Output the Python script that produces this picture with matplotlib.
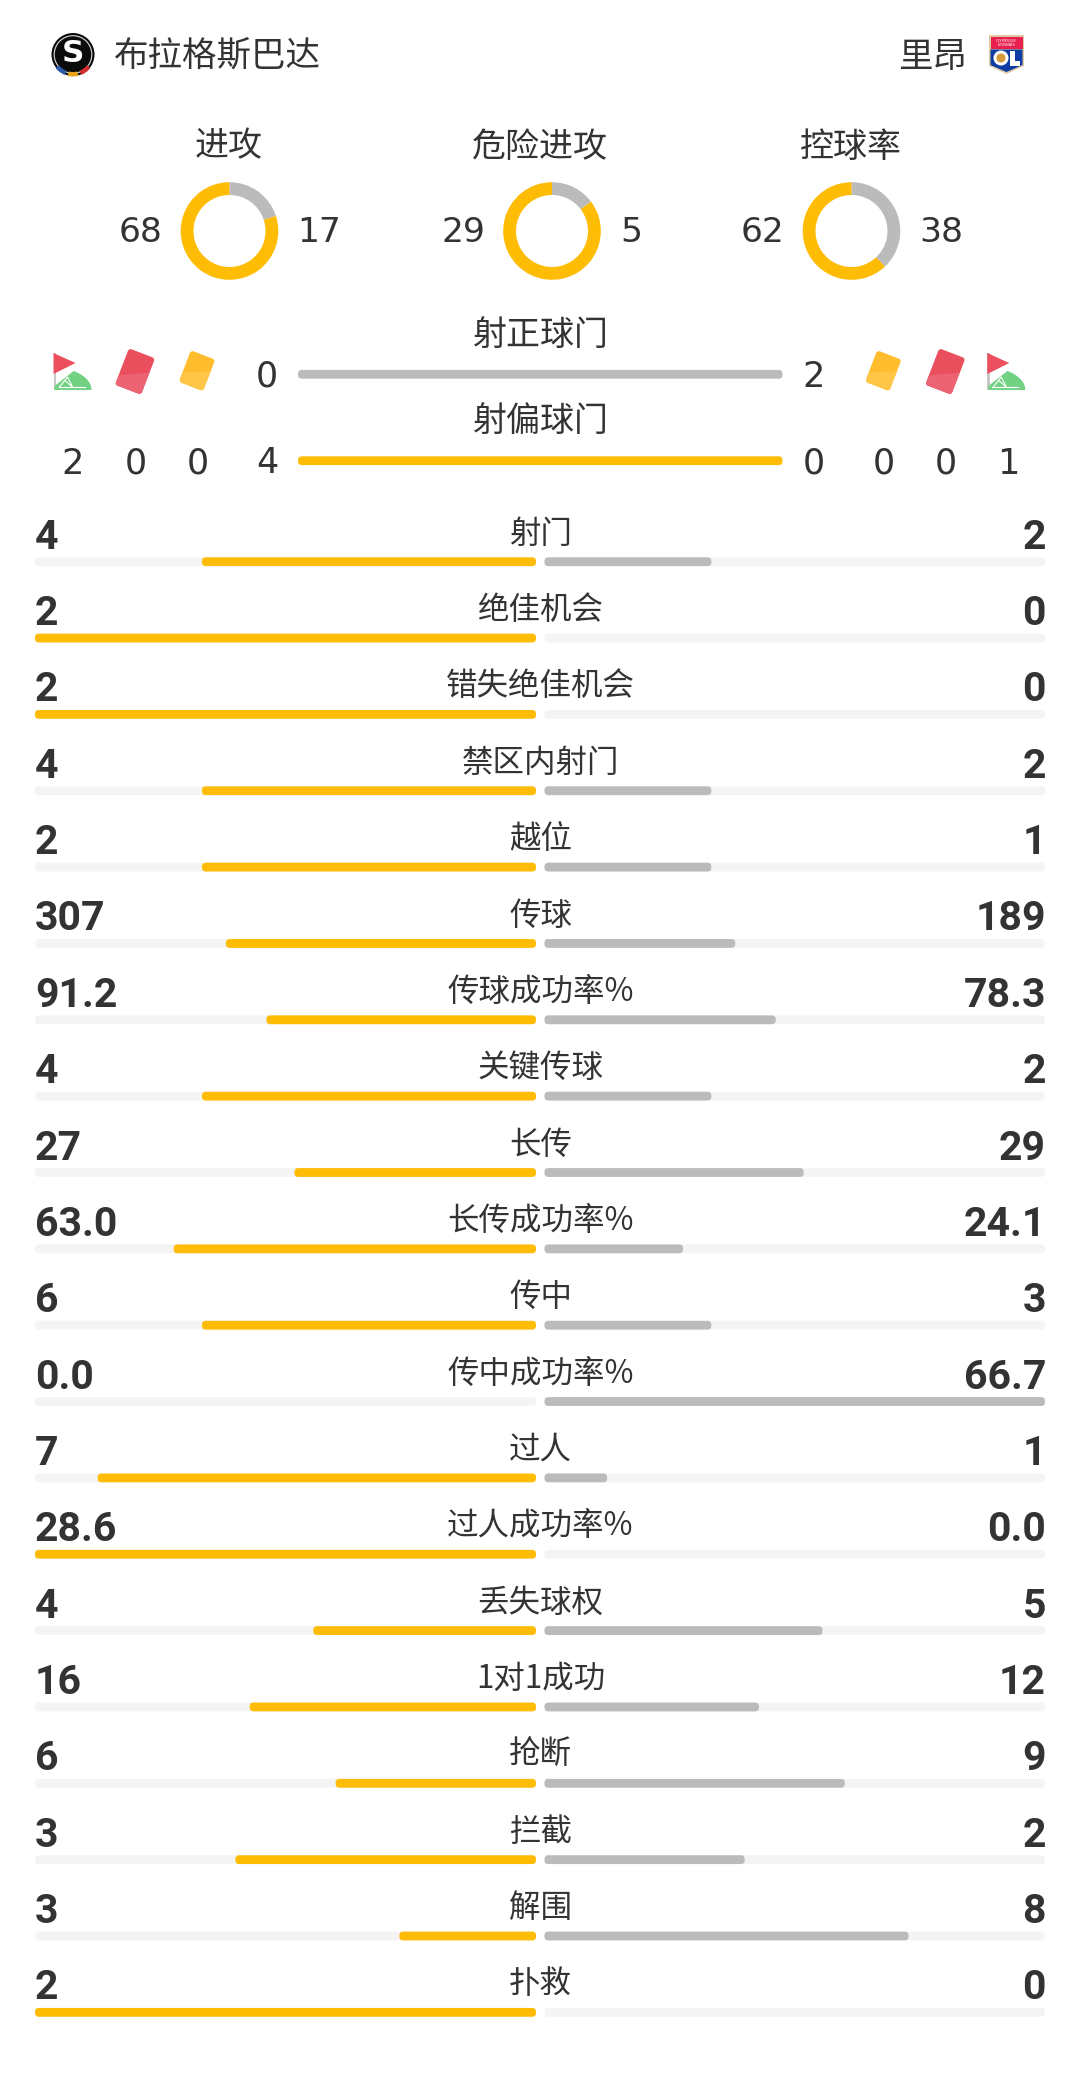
"""Match stats panel: three possession donuts, two shot bars, twenty stat rows."""
import numpy as np
import matplotlib
matplotlib.use("Agg")
import matplotlib.pyplot as plt
from matplotlib.patches import Circle, FancyBboxPatch, Polygon, Rectangle, Wedge
from matplotlib.transforms import Affine2D

home_team = "布拉格斯巴达"
away_team = "里昂"

donut_labels = ["进攻", "危险进攻", "控球率"]
donut_home = [68, 29, 62]
donut_away = [17, 5, 38]

shot_labels = ["射正球门", "射偏球门"]
shot_home = [0, 4]
shot_away = [2, 0]
# corners, red cards, yellow cards on the shots-off-target line
home_counts = ["2", "0", "0"]
away_counts = ["0", "0", "1"]

stat_labels = ["射门", "绝佳机会", "错失绝佳机会", "禁区内射门", "越位", "传球", "传球成功率%",
               "关键传球", "长传", "长传成功率%", "传中", "传中成功率%", "过人", "过人成功率%",
               "丢失球权", "1对1成功", "抢断", "拦截", "解围", "扑救"]
stat_home = ["4", "2", "2", "4", "2", "307", "91.2", "4", "27", "63.0",
             "6", "0.0", "7", "28.6", "4", "16", "6", "3", "3", "2"]
stat_away = ["2", "0", "0", "2", "1", "189", "78.3", "2", "29", "24.1",
             "3", "66.7", "1", "0.0", "5", "12", "9", "2", "8", "0"]

YELLOW = "#FFBC05"
GREY = "#BBBBBB"
TRACK = "#F4F4F4"
INK = "#333333"
CJK = ["Noto Sans CJK SC", "DejaVu Sans"]
NUM = ["Roboto", "DejaVu Sans"]
PLAIN = ["DejaVu Sans"]

fig = plt.figure(figsize=(10.8, 20.74), dpi=100, facecolor="white")
ax = fig.add_axes([0, 0, 1, 1])
ax.set_xlim(0, 1080)
ax.set_ylim(2074, 0)
ax.axis("off")


def px(size):
    """Font size given in image pixels."""
    return size * 72 / 100


def pill(x0, x1, y, h, color, z=2):
    if x1 - x0 <= 0:
        return
    r = min(h / 2 - 0.5, (x1 - x0) / 2)
    ax.add_patch(FancyBboxPatch((x0 + r, y - h / 2 + r), x1 - x0 - 2 * r, h - 2 * r,
                                boxstyle=f"round,pad={r},rounding_size={r}",
                                fc=color, ec="none", zorder=z))


def label(x, y, s, size=32, ha="center", family=CJK, weight="normal", color=INK):
    ax.text(x, y, s, fontsize=px(size), ha=ha, va="center_baseline", family=family,
            weight=weight, color=color)


def card(cx, cy, w, h, base, light):
    rot = Affine2D().rotate_deg_around(cx, cy, 21) + ax.transData
    p = FancyBboxPatch((cx - w / 2 + 3, cy - h / 2 + 3), w - 6, h - 6,
                       boxstyle="round,pad=3,rounding_size=3", fc=base, ec="none",
                       transform=rot, zorder=3)
    ax.add_patch(p)
    lower = Polygon([(cx - w / 2, cy + h / 2 + 1), (cx + w / 2, cy + h / 2 + 1), (cx + w / 2, cy - 4),
                     (cx - w / 2, cy + h / 2 - 10)], fc=light, ec="none", transform=rot, zorder=4)
    ax.add_patch(lower)
    lower.set_clip_path(p)


def corner_flag(x, y):
    ax.add_patch(Rectangle((x, y), 2.7, 37, fc="#C8C8C8", ec="none", zorder=3))
    ax.add_patch(Polygon([(x, y), (x, y + 21), (x + 22, y + 10)], fc="#EC4F5E", ec="none", zorder=4))
    t = np.radians(np.linspace(0, 58, 30))
    arc = np.c_[x + 38 * np.cos(t), y + 37 - 19 * np.sin(t) / np.sin(np.radians(58))]
    ax.add_patch(Polygon(np.vstack([[x + 1, y + 37], arc, [x + 1, y + 33]]),
                         fc="#72D183", ec="none", zorder=3))
    ax.plot([x + 5, x + 31], [y + 34, y + 34], color="white", lw=0.8, zorder=5)
    ax.plot([x + 6, x + 14, x + 19, x + 12], [y + 34, y + 24, y + 34, y + 28], color="white", lw=0.8, zorder=5)


def sparta_logo(cx, cy):
    ax.add_patch(Circle((cx, cy), 21.5, fc="#0B0B0B", ec="none", zorder=3))
    ax.add_patch(Circle((cx, cy), 18.8, fc="none", ec="#D8D8D8", lw=0.8, zorder=4))
    # angles run clockwise on screen because y is inverted
    for a0, a1, c in [(112, 142, "#2C5AA8"), (76, 104, "#E8A317"), (38, 68, "#D32F2F")]:
        ax.add_patch(Wedge((cx, cy), 22, a0, a1, width=4.5, fc=c, ec="none", zorder=5))
    ax.text(cx, cy - 1.5, "S", fontsize=px(31), family="DejaVu Sans", weight="bold", color="white",
            ha="center", va="center", zorder=6)


def lyon_logo(x, y):
    ax.add_patch(Polygon([(x, y), (x + 35, y), (x + 35, y + 31), (x + 30, y + 33), (x + 17.5, y + 39),
                          (x + 5, y + 33), (x, y + 31)], fc="#E0C9A0", ec="none", zorder=3))
    ax.add_patch(Rectangle((x + 1.5, y + 1.5), 32, 12, fc="#E8204E", ec="none", zorder=4))
    ax.add_patch(Polygon([(x + 1.5, y + 14.5), (x + 33.5, y + 14.5), (x + 33.5, y + 30), (x + 29, y + 32),
                          (x + 17.5, y + 37), (x + 6, y + 32), (x + 1.5, y + 30)], fc="#0E3CA5", ec="none", zorder=4))
    ax.text(x + 17.5, y + 5, "OLYMPIQUE", fontsize=2.6, color="white", ha="center", va="center", zorder=5)
    ax.text(x + 17.5, y + 10, "LYONNAIS", fontsize=2.6, color="white", ha="center", va="center", zorder=5)
    ax.add_patch(Circle((x + 12, y + 23), 7.5, fc="white", ec="none", zorder=5))
    ax.add_patch(Circle((x + 12, y + 23), 4.5, fc="#D29A3A", ec="none", zorder=6))
    ax.add_patch(Rectangle((x + 21, y + 16), 4.5, 14, fc="white", ec="none", zorder=5))
    ax.add_patch(Rectangle((x + 21, y + 26), 10, 4.5, fc="white", ec="none", zorder=5))


# header
sparta_logo(73, 54.5)
label(113.5, 53.5, home_team, size=34.5, ha="left")
label(967, 53.5, away_team, size=34.5, ha="right")
lyon_logo(989, 35)

# donuts
donut_cx = [229.5, 552, 851.5]
label_cx = [229, 540, 850.7]
for cx, lx, name, h, a in zip(donut_cx, label_cx, donut_labels, donut_home, donut_away):
    cy = 231
    label(lx, 143, name, size=34)
    # grey runs clockwise from the top, yellow takes the rest
    split = 360 * a / (h + a)
    ax.add_patch(Wedge((cx, cy), 48.8, -90, -90 + split, width=12.8, fc=GREY, ec="none", zorder=2))
    ax.add_patch(Wedge((cx, cy), 48.8, -90 + split, 270, width=12.8, fc=YELLOW, ec="none", zorder=3))
    label(cx - 67, 229.5, str(h), size=34.5, ha="right", family=PLAIN)
    label(cx + 68, 229.5, str(a), size=34.5, ha="left", family=PLAIN)

# shot bars
bar_x0, bar_x1 = 298, 782.5
shot_y = [374.3, 460.7]
shot_label_y = [331, 417.5]
for y, ly, name, h, a in zip(shot_y, shot_label_y, shot_labels, shot_home, shot_away):
    label(541, ly, name, size=34)
    pill(bar_x0, bar_x1, y, 8.8, GREY if a > h else YELLOW)
    label(267, y - 1, str(h), size=35, family=PLAIN)
    label(814, y - 1, str(a), size=35, family=PLAIN)

corner_flag(53.5, 353)
card(135, 371.5, 28, 39, "#EA4F5E", "#EC6474")
card(197, 370.7, 26, 33.7, "#FFBD2E", "#FFC648")
card(883.3, 370.7, 26, 33.7, "#FFBD2E", "#FFC648")
card(945.3, 371.5, 28, 39, "#EA4F5E", "#EC6474")
corner_flag(987.3, 353)
for x, s in zip([73, 135.5, 198], home_counts):
    label(x, 460, s, size=35, family=PLAIN)
for x, s in zip([884, 946, 1008], away_counts):
    label(x, 460, s, size=35, family=PLAIN)

# stat rows
left_x0, left_x1 = 35, 536
right_x0, right_x1 = 544.5, 1045
row_y0, row_step = 561.7, 76.35
for i, name in enumerate(stat_labels):
    y = row_y0 + i * row_step
    h, a = float(stat_home[i]), float(stat_away[i])
    total = h + a
    pill(left_x0, left_x1, y, 8.8, TRACK, z=1)
    pill(right_x0, right_x1, y, 8.8, TRACK, z=1)
    if total > 0:
        pill(left_x1 - (left_x1 - left_x0) * h / total, left_x1, y, 8.8, YELLOW)
        pill(right_x0, right_x0 + (right_x1 - right_x0) * a / total, y, 8.8, GREY)
    label(540.5, y - 31.5, name, size=31.5)
    label(left_x0, y - 28, stat_home[i], size=41, ha="left", family=NUM, weight="bold")
    label(right_x1 + 1, y - 28, stat_away[i], size=41, ha="right", family=NUM, weight="bold")

fig.savefig("out.png", dpi=100, facecolor="white")
